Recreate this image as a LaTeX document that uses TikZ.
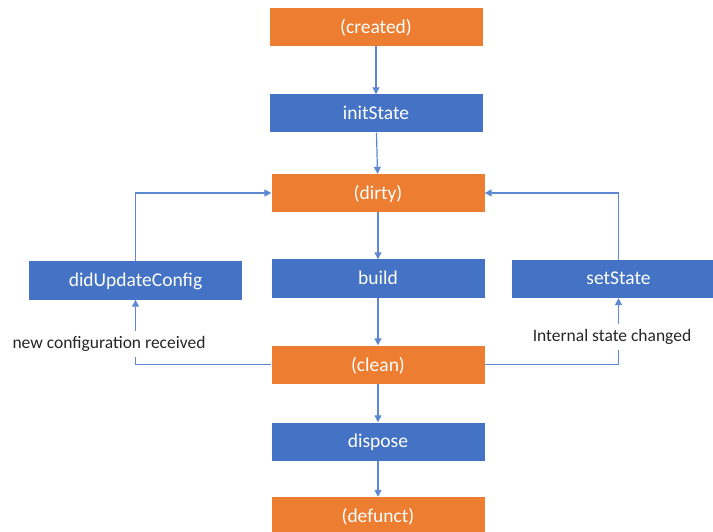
\documentclass[tikz,border=0pt]{standalone}
\usepackage{fontspec}
\setmainfont{Carlito}
\usetikzlibrary{arrows.meta,positioning}
\definecolor{stOrange}{HTML}{ED7D31}
\definecolor{stBlue}{HTML}{4472C4}
\definecolor{stLine}{HTML}{5E89D2}
\begin{document}
\begin{tikzpicture}[x=1pt,y=-1pt] % жизненный цикл состояния
\tikzstyle{phase} = [fill=stOrange, text=white, minimum width=213pt, minimum height=38pt, inner sep=0pt, text depth=1pt, font=\fontsize{19.5}{22}\selectfont] % фаза
\tikzstyle{method} = [fill=stBlue, text=white, minimum width=213pt, minimum height=38pt, inner sep=0pt, text depth=1pt, font=\fontsize{19.5}{22}\selectfont] % метод
\tikzstyle{flow} = [draw=stLine, line width=1.2pt, -{Triangle[width=7pt,length=7pt]}] % стрелка
\tikzstyle{note} = [fill=white, inner xsep=2pt, inner ysep=5pt, font=\fontsize{17.5}{20}\selectfont, text=black!85] % подпись

\useasboundingbox (0,0) rectangle (713,532);

\node[phase] (created) at (376,27) {(created)};
\node[method] (init) at (376,113.5) {initState};
\node[phase] (dirty) at (378,193) {(dirty)};
\node[method] (build) at (378,278.5) {build};
\node[method] (update) at (135.5,280.5) {didUpdateConfig};
\node[method] (setstate) at (618.5,279) {setState};
\node[phase] (clean) at (378,364.5) {(clean)};
\node[method] (dispose) at (378,441.5) {dispose};
\node[phase] (defunct) at (378,516) {(defunct)};

% основной путь
\draw[flow] (created) -- (init);
\draw[flow] (init) -- (dirty);
\draw[flow] (dirty) -- (build);
\draw[flow] (build) -- (clean);
\draw[flow] (clean) -- (dispose);
\draw[flow] (dispose) -- (defunct);

% обратные связи
\draw[flow] (update.north) |- (dirty.west);
\draw[flow] (setstate.north) |- (dirty.east);
\draw[flow] (clean.west) -| (update.south);
\draw[flow] (clean.east) -| (setstate.south);

\node[note] (cfg) at (109,344) {new configuration received};
\node[note] (chg) at (612,337) {Internal state changed};
\end{tikzpicture}
\end{document}
